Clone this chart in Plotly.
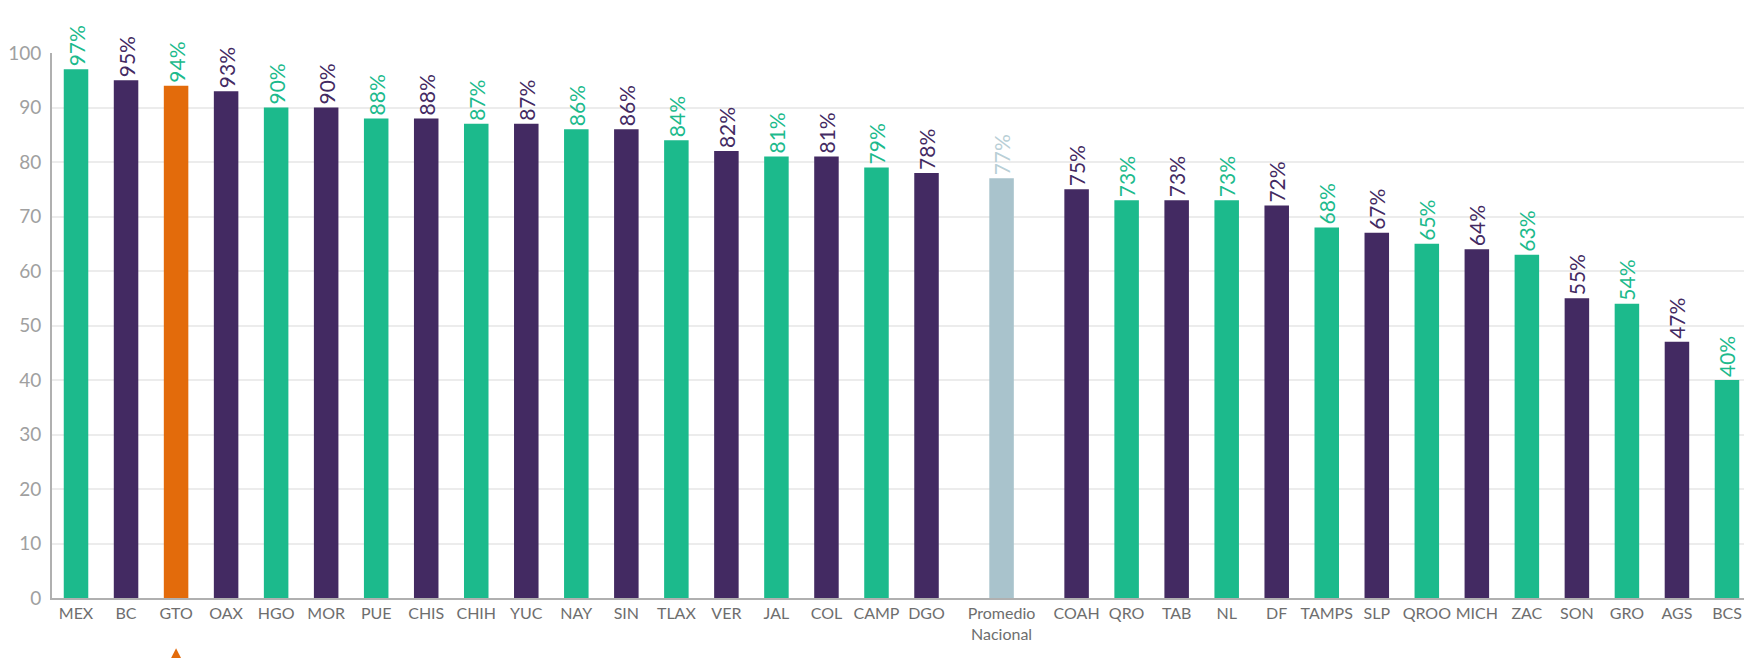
import plotly.graph_objects as go

categories = ["MEX", "BC", "GTO", "OAX", "HGO", "MOR", "PUE", "CHIS", "CHIH", "YUC",
              "NAY", "SIN", "TLAX", "VER", "JAL", "COL", "CAMP", "DGO", "Promedio<br>Nacional",
              "COAH", "QRO", "TAB", "NL", "DF", "TAMPS", "SLP", "QROO", "MICH", "ZAC",
              "SON", "GRO", "AGS", "BCS"]
values = [97, 95, 94, 93, 90, 90, 88, 88, 87, 87,
          86, 86, 84, 82, 81, 81, 79, 78, 77,
          75, 73, 73, 73, 72, 68, 67, 65, 64, 63,
          55, 54, 47, 40]
groups = ["g", "p", "o", "p", "g", "p", "g", "p", "g", "p",
          "g", "p", "g", "p", "g", "p", "g", "p", "n",
          "p", "g", "p", "g", "p", "g", "p", "g", "p", "g",
          "p", "g", "p", "g"]
y_ticks = [0, 10, 20, 30, 40, 50, 60, 70, 80, 90, 100]

GREEN = "#1cba8c"
PURPLE = "#432a62"
ORANGE = "#e36b0b"
GREY = "#a9c3cc"
bar_colors = {"g": GREEN, "p": PURPLE, "o": ORANGE, "n": GREY}
text_colors = {"g": GREEN, "p": PURPLE, "o": GREEN, "n": "#b9cfd6"}

# slot positions: half a slot of extra space on each side of the national average
avg_idx = groups.index("n")
pos = []
for i in range(len(categories)):
    p = float(i)
    if i >= avg_idx:
        p += 0.5
    if i > avg_idx:
        p += 0.5
    pos.append(p)

fig = go.Figure()
fig.add_trace(go.Bar(
    x=pos,
    y=values,
    width=0.49,
    marker=dict(color=[bar_colors[g] for g in groups], line=dict(width=0)),
    text=[f"{v}%" for v in values],
    textposition="outside",
    textangle=-90,
    constraintext="none",
    cliponaxis=False,
    textfont=dict(family="Lato", size=21, color=[text_colors[g] for g in groups]),
    hovertext=[c.replace("<br>", " ") for c in categories],
    hoverinfo="text+y",
))

fig.add_annotation(
    x=pos[categories.index("GTO")], y=-0.092, xref="x", yref="paper",
    ax=0, ay=8, showarrow=True, arrowhead=2, arrowsize=1.3,
    arrowwidth=3, arrowcolor=ORANGE, text="",
)

# page body adds an 8px offset, so the figure is sized to fit the 1752x658 window
fig.update_layout(
    width=1744, height=650,
    margin=dict(l=44, r=0, t=45, b=60),
    plot_bgcolor="white", paper_bgcolor="white",
    showlegend=False,
    font=dict(family="Lato", color="#777"),
    xaxis=dict(
        range=[-0.48, pos[-1] + 0.5],
        tickvals=pos,
        ticktext=categories,
        tickangle=0,
        automargin=False,
        tickfont=dict(family="Lato", size=16, color="#6e6e6e"),
        showline=True, linecolor="#b0b0b0", linewidth=2,
        ticks="", showgrid=False, zeroline=False,
    ),
    yaxis=dict(
        range=[0, 100],
        tickvals=y_ticks,
        automargin=False,
        tickfont=dict(family="Lato", size=19, color="#a0a0a0"),
        showline=True, linecolor="#b0b0b0", linewidth=2,
        showgrid=True, gridcolor="#ececec", gridwidth=2,
        zeroline=False, ticks="", ticklabelstandoff=5,
    ),
)

fig.write_html("out.html")
